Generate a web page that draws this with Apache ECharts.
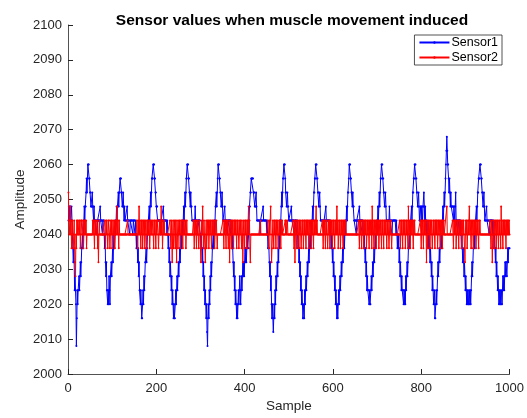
<!DOCTYPE html>
<html>
<head>
<meta charset="utf-8">
<script src="https://cdn.jsdelivr.net/npm/echarts@6/dist/echarts.min.js"></script>
<style>
html,body{margin:0;padding:0;background:#fff;}
#chart{width:527px;height:418px;}
</style>
</head>
<body>
<div id="chart"></div>
<script>
const titleText = "Sensor values when muscle movement induced";
const seriesNames = ["Sensor1", "Sensor2"];
const xTicks = [0, 200, 400, 600, 800, 1000];
const yTicks = [2000, 2010, 2020, 2030, 2040, 2050, 2060, 2070, 2080, 2090, 2100];

const sensor1 = [
2044,2048,2044,2048,2048,2044,2044,2048,
2044,2040,2036,2032,2036,2032,2024,2028,2024,2020,
2008,2016,2024,2020,2024,2024,
2028,2024,2028,2032,2028,2032,2036,2036,2040,2036,2040,2044,2048,2044,2048,2048,2052,2056,2052,2056,
2060,2060,2060,
2056,2056,2052,2052,2048,2048,
2048,2052,2048,2048,2044,2048,2044,2044,
2044,2044,2044,2044,2040,2044,2044,2044,2044,2044,2044,2048,2044,2044,2044,2044,2040,2044,2044,2044,
2040,2036,2040,2032,2028,2032,2024,2024,
2020,2024,2020,2028,2024,2020,2028,
2028,2032,2028,2032,2036,2032,2036,2040,2036,2040,2044,2040,2044,2048,2044,2048,2048,2052,2048,2052,2052,
2056,2056,2056,
2052,2052,2048,2048,2052,2048,2044,2048,
2044,2044,2044,2044,2044,2048,2044,2044,2044,2044,2044,2040,2044,2044,2044,2044,2044,2044,2040,2044,2044,2044,2044,
2040,2044,2040,2036,2040,2036,2032,2036,2028,2032,2024,2024,
2020,2024,2020,2016,2016,2020,2024,2020,
2028,2024,2028,2032,2032,2036,2032,2036,2040,2040,2044,2044,2048,2044,2048,2052,2048,2052,2056,2056,2056,
2060,2060,2060,
2056,2056,2052,2052,2048,2048,2048,2044,
2044,2044,2044,2044,2044,2044,2040,2044,2044,2044,2044,2044,2048,2044,2044,2044,2044,2044,2044,2044,
2040,2044,2040,2036,2040,2032,2036,2028,2032,2028,2024,2028,2020,2024,
2020,2016,2020,2016,2016,2020,2024,2020,
2024,2028,2024,2028,2032,2028,2032,2036,2032,2036,2040,2036,2040,2044,2040,2044,2048,2044,2048,2052,2048,2052,2056,2056,
2060,2060,2060,
2056,2056,2052,2052,2048,2052,2048,2048,
2044,2044,2044,2044,2044,2044,2044,2048,2044,2044,2044,2044,2040,2044,2044,2044,2044,2044,2044,
2040,2036,2040,2036,2032,2036,2028,2032,2024,2028,2020,2024,2020,
2016,2020,2012,2008,2016,2020,2016,
2024,2020,2028,2024,2032,2028,2032,2036,2036,2040,2036,2044,2040,2044,2048,2048,2052,2048,2052,2056,
2060,2060,2060,
2056,2056,2052,2052,2048,2048,2052,2048,
2044,2044,2044,2044,2048,2044,2044,2044,2044,2044,2040,2044,2044,2044,2044,2044,2044,
2040,2044,2040,2036,2040,2036,2032,2028,2032,2024,2028,2020,2024,
2020,2016,2020,2016,2020,2024,2020,
2024,2028,2024,2020,2024,2028,2024,2028,2032,2028,2032,2028,2032,2036,2032,2036,2032,2036,2040,2036,2036,2040,2044,2048,2048,2052,2052,2056,
2056,2056,2056,2056,
2052,2052,2052,2048,2048,2048,2052,2048,
2044,2044,2044,2044,2044,2044,2044,2040,2044,2044,2044,2044,2044,2044,2048,2044,2044,2044,2044,2044,2044,2044,2040,2044,
2040,2036,2040,2036,2032,2028,2032,2024,2028,2020,2016,
2020,2016,2012,2016,2020,2016,2024,
2020,2028,2024,2028,2032,2028,2036,2032,2040,2036,2044,2040,2044,2048,2052,2048,2052,2056,2056,
2060,2060,2060,
2056,2052,2052,2048,2048,2052,2048,2048,
2044,2044,2044,2044,2044,2044,2048,2044,2044,2044,2044,2044,2044,2040,2044,2044,2044,2044,
2040,2044,2040,2036,2040,2032,2036,2028,2032,2024,2028,2020,
2024,2020,2016,2016,2020,2016,2024,
2020,2024,2028,2024,2028,2032,2028,2032,2036,2032,2036,2040,2036,2040,2044,2040,2044,2048,2044,2048,2052,2052,2056,2056,
2060,2060,2060,
2056,2056,2052,2052,2048,2048,2052,2048,
2044,2044,2044,2044,2044,2044,2044,2040,2044,2044,2044,2044,2048,2044,2044,2044,2044,2044,2044,2044,2044,
2040,2044,2040,2036,2040,2036,2032,2036,2028,2032,2028,2024,2028,2020,2024,
2020,2016,2020,2016,2020,2024,2020,
2024,2028,2024,2028,2032,2028,2032,2036,2032,2036,2040,2036,2040,2044,2040,2044,2048,2044,2048,2052,2052,2056,
2060,2060,2060,
2056,2056,2052,2052,2048,2052,2048,2048,
2044,2044,2044,2044,2044,2040,2044,2044,2044,2044,2044,2044,2048,2044,2044,2044,2044,2044,2044,
2040,2044,2040,2036,2040,2036,2032,2036,2028,2032,2024,2028,2024,2024,
2024,2020,2024,2020,2020,2024,2028,
2024,2028,2032,2028,2032,2036,2032,2036,2040,2036,2040,2044,2040,2044,2048,2044,2048,2052,2048,2052,2056,2056,
2060,2060,2060,
2056,2056,2052,2052,2048,2048,2052,2048,
2044,2044,2044,2044,2044,2044,2044,2048,2044,2044,2044,2044,2044,2040,2044,2044,2044,2044,2044,2044,2044,2044,
2040,2044,2040,2036,2040,2036,2040,2032,2036,2028,2032,2028,2024,2028,2024,2024,
2024,2020,2024,2020,2024,2020,2028,
2024,2028,2032,2028,2032,2036,2036,2040,2036,2040,2044,2044,2048,2044,2048,2052,2052,2056,2056,
2060,2060,2060,
2056,2056,2052,2052,2048,2048,2052,2048,
2044,2044,2048,2048,2044,2048,2048,2044,2048,2048,2052,2048,2044,2048,2044,2044,
2040,2044,2040,2036,2040,2036,2040,2036,2032,2036,2032,2028,2032,2024,2028,2024,2020,
2020,2024,2016,2016,2020,2024,2020,
2024,2028,2032,2028,2032,2036,2032,2036,2036,2040,2036,2040,2044,2048,2044,2048,2052,2048,2052,2056,2060,2064,
2068,2064,
2060,2060,2056,2052,2056,2052,2048,2052,2048,2048,
2048,2048,2048,2044,2048,2048,2044,2048,2052,2044,2044,2044,2044,2040,2044,2044,2044,2044,
2040,2044,2040,2036,2040,2036,2032,2036,2032,2028,2032,2028,2024,2028,2024,2020,2024,2020,
2024,2020,2020,2024,2020,2024,2020,
2024,2028,2032,2028,2032,2036,2036,2040,2036,2040,2044,2044,2048,2044,2048,2052,2052,2056,2056,2056,
2060,2060,2060,
2056,2056,2052,2052,2048,2048,2052,2048,
2044,2044,2044,2044,2048,2044,2044,2044,2044,2044,2040,2044,2044,2044,2044,2044,2044,2044,
2040,2044,2040,2036,2040,2036,2032,2036,2028,2032,2028,2024,2028,2024,2020,2024,
2020,2024,2020,2020,2024,2020,2024,2028,
2024,2028,2024,2028,2032,2028,2032,2032,2028,2032,2036,2032,2036,2036,2036
];

const sensor2 = [
2052,2044,2040,2044,2048,2040,2044,2036,2040,2044,
2040,2036,2040,2044,2036,2032,2028,2040,2036,2044,
2040,2044,2040,2040,2044,2040,2044,2036,2040,2044,
2044,2040,2040,2044,2036,2040,2044,2040,2044,2040,
2044,2036,2040,2040,2040,2040,2040,2040,2040,2040,
2040,2040,2040,2040,2040,2044,2040,2044,2040,2036,
2044,2040,2044,2040,2040,2044,2036,2040,2032,2040,
2044,2040,2040,2040,2040,2040,2040,2040,2040,2040,
2040,2040,2044,2040,2036,2044,2040,2044,2040,2036,
2040,2044,2044,2040,2036,2040,2044,2040,2044,2036,
2040,2044,2040,2040,2044,2036,2040,2044,2040,2044,
2048,2040,2044,2040,2036,2044,2040,2040,2040,2040,
2040,2040,2040,2040,2040,2040,2040,2040,2040,2040,
2040,2040,2040,2040,2044,2040,2040,2040,2040,2040,
2040,2040,2040,2040,2040,2040,2040,2040,2040,2040,
2040,2040,2040,2040,2040,2044,2040,2036,2044,2040,
2048,2040,2044,2040,2036,2044,2040,2044,2036,2040,
2044,2040,2044,2036,2040,2044,2040,2036,2044,2040,
2044,2040,2040,2044,2036,2040,2044,2040,2044,2040,
2040,2044,2040,2036,2044,2040,2044,2040,2036,2044,
2040,2044,2044,2040,2036,2040,2044,2040,2044,2040,
2048,2040,2044,2036,2040,2044,2040,2044,2040,2040,
2040,2040,2040,2040,2040,2040,2040,2040,2040,2040,
2044,2040,2036,2044,2040,2032,2040,2044,2036,2040,
2044,2040,2036,2044,2040,2032,2044,2040,2036,2040,
2044,2040,2044,2036,2040,2044,2040,2044,2040,2036,
2044,2040,2044,2040,2040,2044,2036,2040,2044,2040,
2040,2040,2040,2040,2040,2040,2040,2040,2040,2040,
2040,2040,2040,2044,2040,2036,2044,2040,2044,2040,
2036,2044,2040,2044,2040,2036,2040,2044,2040,2036,
2032,2040,2044,2040,2048,2040,2036,2044,2040,2036,
2032,2040,2044,2036,2040,2044,2040,2044,2036,2040,
2044,2040,2044,2040,2036,2044,2040,2044,2040,2040,
2044,2036,2040,2044,2040,2044,2040,2036,2040,2040,
2040,2040,2040,2040,2040,2040,2040,2040,2040,2040,
2044,2040,2036,2044,2040,2044,2040,2036,2044,2040,
2044,2040,2036,2040,2044,2032,2040,2044,2040,2036,
2044,2040,2044,2040,2036,2044,2040,2044,2040,2044,
2040,2036,2044,2040,2044,2040,2036,2040,2044,2040,
2044,2040,2036,2044,2040,2032,2040,2044,2040,2036,
2044,2040,2044,2040,2036,2044,2040,2044,2048,2040,
2044,2036,2032,2040,2040,2040,2040,2040,2040,2040,
2040,2040,2040,2040,2040,2040,2040,2040,2040,2040,
2040,2040,2040,2040,2040,2044,2040,2040,2040,2040,
2040,2040,2040,2040,2040,2040,2040,2040,2040,2040,
2040,2040,2044,2040,2036,2044,2040,2044,2048,2040,
2032,2036,2040,2044,2040,2036,2044,2040,2044,2040,
2036,2044,2040,2044,2040,2036,2040,2044,2040,2044,
2040,2036,2044,2040,2044,2040,2040,2040,2040,2040,
2040,2044,2040,2044,2040,2040,2044,2040,2040,2040,
2040,2040,2040,2040,2040,2040,2040,2040,2040,2044,
2040,2036,2044,2032,2040,2044,2040,2036,2044,2040,
2044,2040,2036,2044,2040,2044,2040,2036,2040,2044,
2040,2044,2036,2040,2044,2040,2044,2040,2036,2044,
2040,2044,2040,2044,2036,2040,2044,2040,2044,2040,
2036,2044,2040,2044,2040,2036,2044,2040,2044,2040,
2044,2048,2040,2044,2040,2040,2040,2040,2040,2040,
2040,2040,2040,2040,2040,2044,2040,2036,2044,2040,
2044,2040,2036,2044,2040,2044,2040,2036,2040,2044,
2040,2044,2036,2040,2044,2040,2044,2040,2036,2044,
2040,2044,2040,2036,2044,2040,2044,2040,2048,2040,
2044,2036,2040,2044,2040,2044,2036,2040,2044,2040,
2044,2040,2036,2044,2040,2044,2040,2040,2044,2040,
2040,2040,2040,2040,2040,2040,2040,2040,2040,2040,
2040,2040,2040,2040,2040,2040,2040,2040,2040,2040,
2040,2040,2040,2040,2040,2040,2040,2044,2040,2036,
2044,2040,2044,2040,2036,2044,2040,2044,2040,2036,
2044,2040,2044,2040,2044,2036,2040,2044,2040,2044,
2040,2036,2044,2040,2044,2040,2044,2036,2048,2040,
2044,2040,2036,2044,2040,2044,2040,2036,2044,2040,
2044,2040,2044,2036,2040,2044,2040,2044,2040,2036,
2044,2040,2044,2040,2036,2044,2040,2044,2040,2044,
2040,2036,2044,2040,2044,2040,2036,2040,2044,2040,
2044,2040,2036,2040,2040,2040,2040,2040,2040,2040,
2040,2040,2040,2040,2040,2040,2040,2040,2040,2040,
2044,2040,2036,2044,2040,2044,2040,2036,2044,2040,
2044,2040,2044,2036,2040,2044,2040,2044,2040,2036,
2048,2040,2044,2040,2036,2044,2040,2044,2040,2044,
2040,2036,2044,2040,2044,2040,2040,2040,2040,2040,
2040,2040,2040,2040,2040,2040,2040,2044,2040,2036,
2044,2040,2044,2040,2036,2044,2040,2044,2040,2044,
2040,2032,2044,2040,2036,2044,2040,2044,2040,2036,
2044,2040,2044,2040,2036,2040,2044,2040,2044,2040,
2036,2044,2040,2044,2040,2044,2036,2040,2044,2040,
2044,2040,2036,2044,2040,2044,2040,2036,2044,2040,
2044,2040,2040,2040,2040,2040,2040,2048,2040,2040,
2040,2040,2040,2040,2040,2040,2040,2040,2040,2040,
2044,2040,2036,2044,2040,2044,2040,2044,2036,2040,
2044,2040,2044,2040,2036,2044,2040,2044,2040,2040,
2044,2036,2040,2044,2040,2044,2040,2036,2032,2040,
2044,2040,2044,2036,2040,2044,2040,2044,2048,2040,
2044,2040,2036,2044,2040,2044,2040,2036,2044,2040,
2044,2040,2044,2036,2040,2044,2040,2044,2040,2036,
2044,2040,2044,2040,2040,2040,2040,2040,2040,2040,
2040,2040,2040,2040,2040,2040,2040,2040,2040,2040,
2040,2040,2040,2040,2040,2044,2040,2036,2044,2040,
2032,2040,2044,2040,2036,2044,2040,2044,2040,2036,
2044,2040,2044,2040,2036,2044,2040,2044,2040,2036,
2048,2040,2044,2040,2036,2044,2040,2044,2040,2044,
2040,2036,2044,2040,2044,2040,2044,2040,2044,2040
];

const axisColor = '#262626';
const fontFam = 'Liberation Sans, Arial, sans-serif';
const chart = echarts.init(document.getElementById('chart'), null, {renderer: 'canvas'});
const toPairs = arr => arr.map((v, i) => [i + 1, v]);

chart.setOption({
  animation: false,
  backgroundColor: '#ffffff',
  textStyle: {fontFamily: fontFam},
  title: {
    text: titleText,
    left: 287, top: 8, textAlign: 'center',
    textStyle: {fontSize: 15.5, fontWeight: 'bold', color: '#000', fontFamily: fontFam}
  },
  grid: {left: 68, right: 15, top: 25, bottom: 43, containLabel: false},
  legend: {
    right: 25, top: 35,
    orient: 'vertical',
    data: seriesNames,
    backgroundColor: '#fff',
    borderColor: axisColor, borderWidth: 0.8,
    padding: [1, 4, 1, 4],
    itemGap: 2, itemWidth: 30, itemHeight: 3,
    textStyle: {fontSize: 12.5, color: '#000', padding: [0, 0, 0, -3]}
  },
  xAxis: {
    type: 'value',
    min: xTicks[0], max: xTicks[xTicks.length - 1], interval: xTicks[1] - xTicks[0],
    name: 'Sample', nameLocation: 'middle', nameGap: 25, nameMoveOverlap: false,
    nameTextStyle: {fontSize: 13.5, color: axisColor},
    axisLine: {show: true, lineStyle: {color: axisColor, width: 0.8}},
    axisTick: {show: true, inside: true, length: 5, lineStyle: {color: axisColor}},
    axisLabel: {fontSize: 13, color: axisColor, margin: 8, formatter: v => String(v)},
    splitLine: {show: false}
  },
  yAxis: {
    type: 'value',
    min: yTicks[0], max: yTicks[yTicks.length - 1], interval: yTicks[1] - yTicks[0],
    name: 'Amplitude', nameLocation: 'middle', nameGap: 41, nameMoveOverlap: false,
    nameTextStyle: {fontSize: 13.5, color: axisColor},
    axisLine: {show: true, lineStyle: {color: axisColor, width: 0.8}},
    axisTick: {show: true, inside: true, length: 5, lineStyle: {color: axisColor}},
    axisLabel: {fontSize: 13, color: axisColor, margin: 6, formatter: v => String(v)},
    splitLine: {show: false}
  },
  series: [
    {
      name: seriesNames[0], type: 'line', data: toPairs(sensor1),
      color: '#0000ff',
      symbol: 'circle', symbolSize: 2, showSymbol: true, showAllSymbol: true,
      lineStyle: {width: 1, color: '#0000ff'},
      itemStyle: {color: '#0000ff'},
      sampling: 'none', z: 2
    },
    {
      name: seriesNames[1], type: 'line', data: toPairs(sensor2),
      color: '#ff0000',
      symbol: 'circle', symbolSize: 2, showSymbol: true, showAllSymbol: true,
      lineStyle: {width: 1, color: '#ff0000'},
      itemStyle: {color: '#ff0000'},
      sampling: 'none', z: 3
    }
  ]
});
</script>
</body>
</html>
